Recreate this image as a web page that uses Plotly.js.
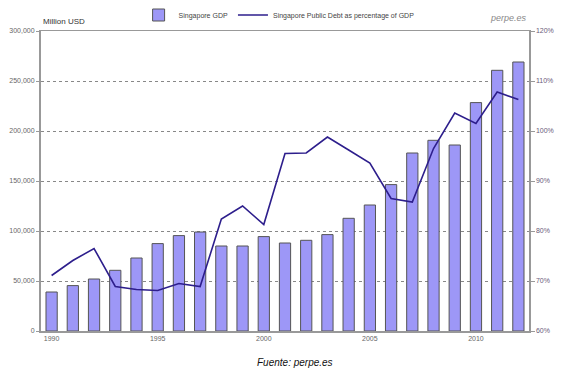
<!DOCTYPE html>
<html><head><meta charset="utf-8">
<script src="https://cdn.plot.ly/plotly-3.0.1.min.js"></script>
<style>html,body{margin:0;padding:0;background:#fff;}#chart{width:566px;height:377px;}</style>
</head><body><div id="chart"></div>
<script>
const years = [1990,1991,1992,1993,1994,1995,1996,1997,1998,1999,2000,2001,2002,2003,2004,2005,2006,2007,2008,2009,2010,2011,2012];
const gdp = [39000,45400,52000,60700,73000,87400,95400,99000,85000,85000,94400,88000,90700,96400,112700,126000,146400,178000,190700,186000,228400,260700,269000];
const debtPct = [71.1,74.1,76.5,68.9,68.3,68.1,69.5,68.9,82.4,85.0,81.3,95.5,95.6,98.8,96.2,93.6,86.5,85.8,96.5,103.6,101.5,107.8,106.3];
const xTicks = [1990,1995,2000,2005,2010];
const leftTicks = [0,50000,100000,150000,200000,250000,300000];
const rightTicks = [60,70,80,90,100,110,120];
const rightLabels = ['60%','70%','80%','90%','100%','110%','120%'];

const traces = [
  {type:'bar', x:years, y:gdp, name:'Singapore GDP', width:0.53,
   marker:{color:'#9d97f7', line:{color:'#555', width:1}}},
  {type:'scatter', mode:'lines', x:years, y:debtPct, yaxis:'y2',
   name:'Singapore Public Debt as percentage of GDP',
   line:{color:'#2d1e8c', width:1.6}}
];
const tickFont = {family:'Liberation Sans, Arial, sans-serif', size:7, color:'#666'};
const layout = {
  width:566, height:377,
  margin:{l:41, r:37, t:31, b:46, autoexpand:false},
  paper_bgcolor:'#fff', plot_bgcolor:'#fff',
  font:{family:'Liberation Sans, Arial, sans-serif', color:'#444'},
  showlegend:true,
  legend:{orientation:'h', x:0.2, y:1.005, xanchor:'left', yanchor:'bottom',
          font:{size:7, color:'#444'}, bgcolor:'rgba(0,0,0,0)', itemwidth:30, tracegroupgap:0},
  bargap:0.47,
  xaxis:{range:[1989.5,2012.5], tickvals:xTicks, ticktext:xTicks.map(String),
         showgrid:false, zeroline:false, showline:true, linecolor:'#999', linewidth:1.5,
         mirror:true, ticks:'', tickfont:tickFont},
  yaxis:{range:[0,300000], tickvals:leftTicks, tickformat:',', showgrid:true,
         gridcolor:'#888', griddash:'dot', gridwidth:1, zeroline:false,
         showline:true, linecolor:'#999', linewidth:2, ticks:'outside', ticklen:3,
         tickcolor:'#999', tickfont:tickFont},
  yaxis2:{range:[60,120], tickvals:rightTicks, ticktext:rightLabels, overlaying:'y', side:'right',
          showgrid:false, zeroline:false, showline:true, linecolor:'#999', linewidth:1.5,
          ticks:'outside', ticklen:4, tickcolor:'#999', tickfont:{family:'Liberation Sans, Arial, sans-serif', size:7, color:'#6a5a7a'}},
  annotations:[
    {text:'Million USD', xref:'paper', yref:'paper', x:0, y:1.01, xanchor:'left', yanchor:'bottom',
     showarrow:false, font:{size:8, color:'#333'}},
    {text:'<i>perpe.es</i>', xref:'paper', yref:'paper', x:1.0, y:1.02, xanchor:'right', yanchor:'bottom',
     showarrow:false, font:{size:9, color:'#888'}},
    {text:'<i>Fuente: perpe.es</i>', xref:'paper', yref:'paper', x:0.52, y:-0.08, xanchor:'center', yanchor:'top',
     showarrow:false, font:{size:10, color:'#111'}}
  ]
};
Plotly.newPlot('chart', traces, layout, {displayModeBar:false, staticPlot:true});
</script></body></html>
